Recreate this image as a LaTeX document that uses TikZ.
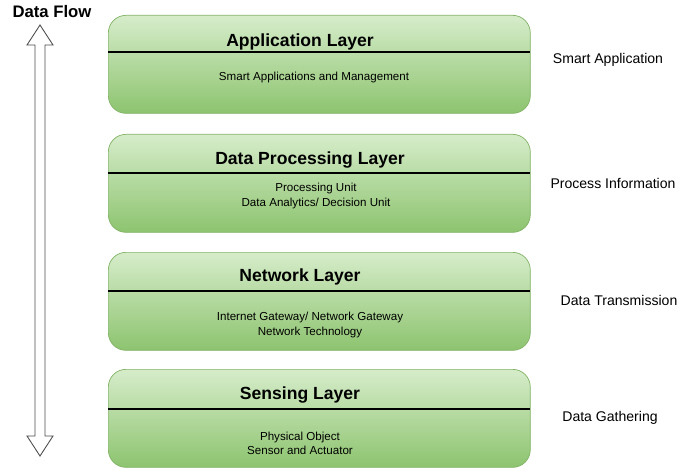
\documentclass[tikz,border=0pt]{standalone}
\usepackage{fontspec}
\setmainfont{Liberation Sans}
\usetikzlibrary{positioning}
\definecolor{lygreentop}{RGB}{214,236,202}
\definecolor{lygreenbot}{RGB}{141,196,111}
\definecolor{lyedge}{RGB}{130,179,102}
\begin{document}
\begin{tikzpicture}[x=0.02cm, y=-0.02cm,
  layer/.style={rounded corners=10pt, draw=lyedge, top color=lygreentop,
      bottom color=lygreenbot, minimum width=8.44cm, minimum height=1.96cm,
      anchor=north west},
  ttl/.style={font=\fontsize{10}{12}\selectfont\bfseries},
  sub/.style={font=\fontsize{6.6}{8}\selectfont, align=center},
  side/.style={font=\fontsize{8}{10}\selectfont}]
\useasboundingbox (0,0) rectangle (685,469);
% Layers
\node[layer] (app) at (108,15) {};
\node[layer] (proc) at (108,134) {};
\node[layer] (net) at (108,252) {};
\node[layer] (sens) at (108,369) {};
% Dividers
\foreach \n/\y in {app/52,proc/173,net/291,sens/409}
  \draw[black, line width=0.6pt] (108,\y) -- (530,\y);
% Titles
\node[ttl] (appT) at (300,42) {Application Layer};
\node[ttl] (procT) at (310,160) {Data Processing Layer};
\node[ttl] (netT) at (300,277) {Network Layer};
\node[ttl] (sensT) at (300,395) {Sensing Layer};
% Contents
\node[sub] (appS) at (314,78) {Smart Applications and Management};
\node[sub] (procS) at (316,196) {Processing Unit\\Data Analytics/ Decision Unit};
\node[sub] (netS) at (310,325) {Internet Gateway/ Network Gateway\\Network Technology};
\node[sub] (sensS) at (300,443) {Physical Object\\Sensor and Actuator};
% Right side labels
\node[side] (appR) at (608,60) {Smart Application};
\node[side] (procR) at (613,183) {Process Information};
\node[side] (netR) at (619,300) {Data Transmission};
\node[side] (sensR) at (610,418) {Data Gathering};
% Data flow arrow
\node[font=\fontsize{9.5}{11}\selectfont\bfseries] (flow) at (52,12) {Data Flow};
\draw[black!70, fill=white, line width=0.5pt]
  (40,25) -- (53,45) -- (45,45) -- (45,436) -- (53,436) -- (40,456)
  -- (27,436) -- (35,436) -- (35,45) -- (27,45) -- cycle;
\end{tikzpicture}
\end{document}
